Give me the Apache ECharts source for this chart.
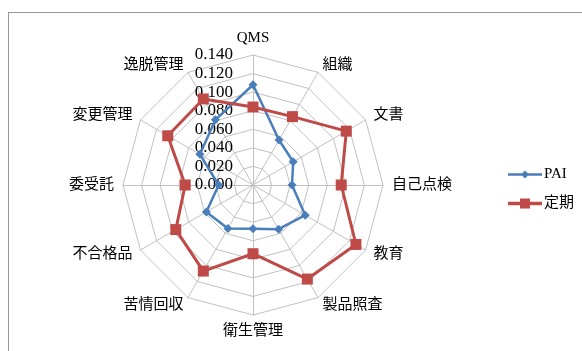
<!DOCTYPE html>
<html>
<head>
<meta charset="utf-8">
<script src="https://cdn.jsdelivr.net/npm/echarts@6/dist/echarts.min.js"></script>
<style>
  html, body { margin: 0; padding: 0; background: #fff; overflow: hidden; }
  #frame { position: absolute; left: 8px; top: 12px; width: 600px; height: 400px; border: 1px solid #999; }
  #chart { position: absolute; left: 0; top: 0; width: 582px; height: 351px; }
</style>
</head>
<body>
<div id="frame"></div>
<div id="chart"></div>
<script>
// 項目（QMS から時計回り）
const categories = ['QMS', '組織', '文書', '自己点検', '教育', '製品照査', '衛生管理', '苦情回収', '不合格品', '委受託', '変更管理', '逸脱管理'];
const paiValues = [0.108, 0.056, 0.050, 0.042, 0.065, 0.055, 0.047, 0.054, 0.058, 0.037, 0.066, 0.081];
const teikiValues = [0.084, 0.085, 0.116, 0.095, 0.128, 0.117, 0.074, 0.107, 0.096, 0.073, 0.106, 0.107];
const seriesNames = ['PAI', '定期'];
const axisMax = 0.14;
const axisStep = 0.02;

const serifFont = '"Liberation Serif", "DejaVu Serif", serif';
const labelFont = '"Liberation Serif", "Noto Sans CJK JP", serif';

// 凡例アイコン：線＋マーカー（Excel 風）
const iconPai = 'path://M0,3.8L34,3.8L34,6.2L0,6.2Z M17,1L21,5L17,9L13,5Z';
const iconTeiki = 'path://M0,3.3L34,3.3L34,6.7L0,6.7Z M12,0L22,0L22,10L12,10Z';

// ECharts のレーダーは反時計回りなので順番を入れ替える
function ccw(arr) {
    return [arr[0]].concat(arr.slice(1).reverse());
}

const chart = echarts.init(document.getElementById('chart'));

const option = {
    animation: false,
    legend: {
        orient: 'vertical',
        left: 503,
        top: 162,
        itemWidth: 34,
        itemHeight: 10,
        itemGap: 14,
        data: [
            { name: seriesNames[0], icon: iconPai },
            { name: seriesNames[1], icon: iconTeiki }
        ],
        textStyle: { fontFamily: labelFont, fontSize: 15, color: '#000', padding: [0, 0, 0, -3] }
    },
    radar: {
        center: [253, 185],
        radius: 130,
        startAngle: 90,
        splitNumber: 7,
        shape: 'polygon',
        axisNameGap: 9,
        axisName: { color: '#000', fontFamily: labelFont, fontSize: 15 },
        indicator: ccw(categories).map(n => ({ name: n, min: 0, max: axisMax })),
        splitArea: { show: false },
        splitLine: { lineStyle: { color: '#c0c0c0', width: 1 } },
        axisLine: { lineStyle: { color: '#c0c0c0', width: 1 } }
    },
    // 目盛ラベル用の見えない軸（QMS 軸の左側）
    grid: { left: 253, top: 55, width: 1, height: 130, containLabel: false },
    xAxis: { type: 'value', show: false },
    yAxis: {
        type: 'value',
        min: 0,
        max: axisMax,
        interval: axisStep,
        axisLine: { show: false },
        axisTick: { show: false },
        splitLine: { show: false },
        axisLabel: {
            margin: 20,
            color: '#000',
            fontFamily: serifFont,
            fontSize: 17,
            formatter: v => v.toFixed(3)
        }
    },
    series: [{
        type: 'radar',
        data: [
            {
                name: seriesNames[0],
                value: ccw(paiValues),
                symbol: 'diamond',
                symbolSize: 9,
                itemStyle: { color: '#4a7ebb' },
                lineStyle: { color: '#4a7ebb', width: 2.5 }
            },
            {
                name: seriesNames[1],
                value: ccw(teikiValues),
                symbol: 'rect',
                symbolSize: 11,
                itemStyle: { color: '#be4b48' },
                lineStyle: { color: '#be4b48', width: 3 }
            }
        ]
    }]
};

chart.setOption(option);
</script>
</body>
</html>
